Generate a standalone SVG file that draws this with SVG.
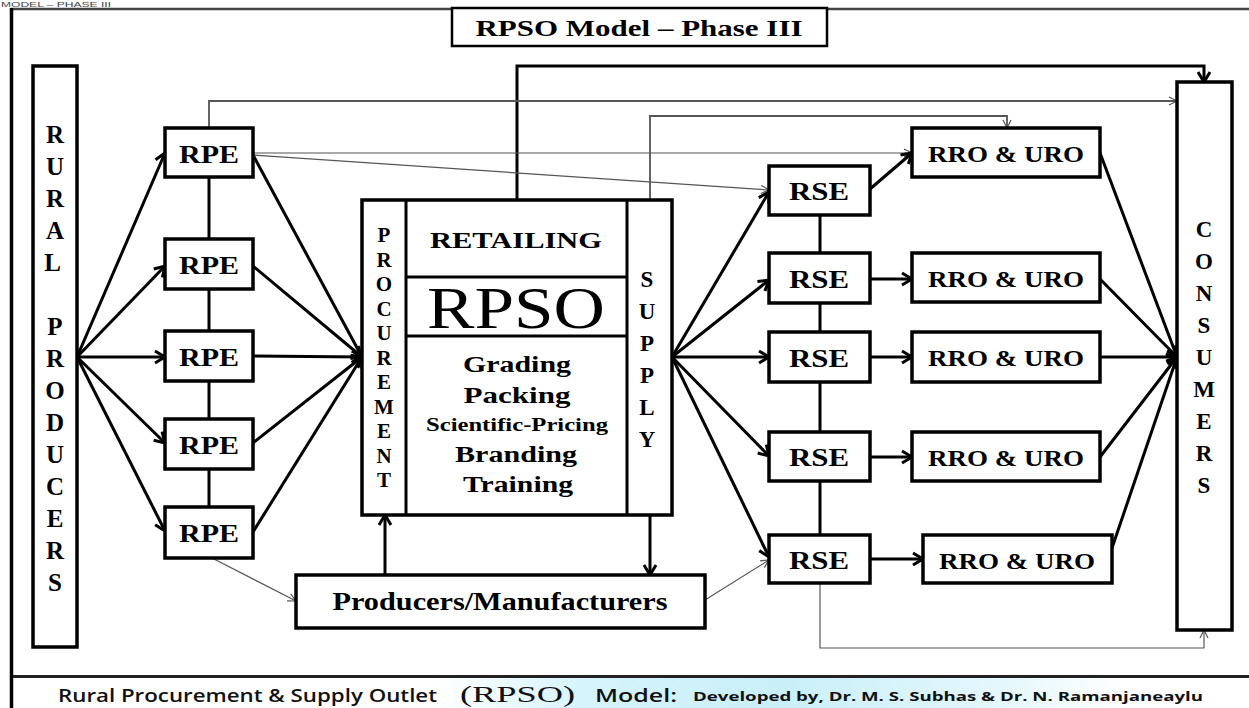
<svg xmlns="http://www.w3.org/2000/svg" width="1249" height="708" viewBox="0 0 1249 708">
<defs>
<linearGradient id="capbg" x1="0" y1="0" x2="1" y2="0">
<stop offset="0" stop-color="#ffffff"/>
<stop offset="0.34" stop-color="#ffffff"/>
<stop offset="0.46" stop-color="#d6f4fb"/>
<stop offset="0.62" stop-color="#c9eff9"/>
<stop offset="0.8" stop-color="#e4f7fc"/>
<stop offset="0.9" stop-color="#ffffff"/>
<stop offset="1" stop-color="#ffffff"/>
</linearGradient>
<marker id="ah" markerUnits="userSpaceOnUse" markerWidth="16" markerHeight="16" refX="13" refY="8" orient="auto" overflow="visible">
<path d="M3,2 L13,8 L3,14" fill="none" stroke="#000" stroke-width="3" stroke-linejoin="miter"/>
</marker>
<marker id="aht" markerUnits="userSpaceOnUse" markerWidth="12" markerHeight="12" refX="10" refY="6" orient="auto" overflow="visible">
<path d="M2,2 L10,6 L2,10" fill="none" stroke="#555" stroke-width="1.2"/>
</marker>
</defs>
<style>
.box{fill:#fff;stroke:#000;stroke-width:3.5}
.thick{fill:none;stroke:#000;stroke-width:3}
.thickA{fill:none;stroke:#000;stroke-width:3;marker-end:url(#ah)}
.thin{fill:none;stroke:#555;stroke-width:1.2;marker-end:url(#aht)}
.thin2{fill:none;stroke:#555;stroke-width:1.8;marker-end:url(#aht)}
.lbl{font-family:"Liberation Serif","Times New Roman",serif;font-weight:bold;text-anchor:middle;fill:#000}
.vl{font-family:"Liberation Serif","Times New Roman",serif;font-weight:bold;text-anchor:middle;fill:#000}
.cap{font-family:"Open Sans","Liberation Sans",sans-serif;font-weight:600;fill:#111}
</style>
<rect width="1249" height="708" fill="#fff"/>
<text x="1" y="7" font-family="Liberation Sans, sans-serif" font-size="8" fill="#444" textLength="110" lengthAdjust="spacingAndGlyphs">MODEL – PHASE III</text>

<g id="frame">
<line x1="11" y1="9" x2="1249" y2="9" stroke="#444" stroke-width="2.5"/>
<rect x="13" y="678" width="1236" height="30" fill="url(#capbg)"/>
<line x1="11" y1="676.5" x2="1249" y2="676.5" stroke="#222" stroke-width="3"/>
<line x1="11.5" y1="8" x2="11.5" y2="708" stroke="#000" stroke-width="3.5"/>
</g>

<g id="title">
<rect x="452" y="8" width="375" height="38" fill="#fff" stroke="#000" stroke-width="2.5"/>
<text x="639" y="36" class="lbl" font-size="23" textLength="327" lengthAdjust="spacingAndGlyphs">RPSO Model – Phase III</text>
</g>

<g id="connectors">
<path d="M517,200 V66 H1204 V82" class="thickA"/>
<path d="M209,128 V101 H1177" class="thin2"/>
<path d="M650,200 V116 H1007 V128" class="thin2"/>
<line x1="253" y1="153" x2="912" y2="153" class="thin"/>
<line x1="253" y1="155" x2="769" y2="190" class="thin"/>
<line x1="77" y1="357" x2="165" y2="153" class="thickA"/>
<line x1="77" y1="357" x2="165" y2="266" class="thickA"/>
<line x1="77" y1="357" x2="165" y2="357" class="thickA"/>
<line x1="77" y1="357" x2="165" y2="443" class="thickA"/>
<line x1="77" y1="357" x2="165" y2="531" class="thickA"/>
<line x1="253" y1="155" x2="362" y2="357" class="thickA"/>
<line x1="253" y1="266" x2="362" y2="357" class="thickA"/>
<line x1="253" y1="356" x2="362" y2="357" class="thickA"/>
<line x1="253" y1="443" x2="362" y2="357" class="thickA"/>
<line x1="253" y1="532" x2="362" y2="357" class="thickA"/>
<line x1="209" y1="177" x2="209" y2="239" class="thick"/>
<line x1="209" y1="289" x2="209" y2="331" class="thick"/>
<line x1="209" y1="381" x2="209" y2="419" class="thick"/>
<line x1="209" y1="469" x2="209" y2="507" class="thick"/>
<line x1="212" y1="558" x2="296" y2="601" class="thin"/>
<line x1="705" y1="600" x2="769" y2="560" class="thin"/>
<line x1="385" y1="575" x2="385" y2="515" class="thickA"/>
<line x1="650" y1="515" x2="650" y2="575" class="thickA"/>
<line x1="672" y1="357" x2="769" y2="192" class="thickA"/>
<line x1="672" y1="357" x2="769" y2="280" class="thickA"/>
<line x1="672" y1="357" x2="769" y2="357" class="thickA"/>
<line x1="672" y1="357" x2="769" y2="456" class="thickA"/>
<line x1="672" y1="357" x2="769" y2="557" class="thickA"/>
<line x1="820" y1="215" x2="820" y2="253" class="thick"/>
<line x1="820" y1="303" x2="820" y2="332" class="thick"/>
<line x1="820" y1="382" x2="820" y2="432" class="thick"/>
<line x1="820" y1="481" x2="820" y2="535" class="thick"/>
<line x1="870" y1="189" x2="912" y2="153" class="thickA"/>
<line x1="870" y1="279" x2="912" y2="279" class="thickA"/>
<line x1="870" y1="357" x2="912" y2="357" class="thickA"/>
<line x1="870" y1="457" x2="912" y2="457" class="thickA"/>
<line x1="870" y1="559" x2="923" y2="559" class="thickA"/>
<line x1="1100" y1="153" x2="1177" y2="357" class="thickA"/>
<line x1="1100" y1="279" x2="1177" y2="357" class="thickA"/>
<line x1="1100" y1="357" x2="1177" y2="357" class="thickA"/>
<line x1="1100" y1="457" x2="1177" y2="357" class="thickA"/>
<line x1="1112" y1="548" x2="1177" y2="357" class="thickA"/>
<path d="M820,583 V648 H1204 V630" class="thin"/>
</g>

<g id="rural-producers">
<rect x="33" y="66" width="44" height="581" class="box" stroke-width="3"/>
<text class="vl" font-size="25">
<tspan x="55" y="143">R</tspan><tspan x="55" y="175">U</tspan><tspan x="55" y="207">R</tspan><tspan x="55" y="239">A</tspan><tspan x="55" y="271">L</tspan>
<tspan x="55" y="335">P</tspan><tspan x="55" y="367">R</tspan><tspan x="55" y="399">O</tspan><tspan x="55" y="431">D</tspan><tspan x="55" y="463">U</tspan><tspan x="55" y="495">C</tspan><tspan x="55" y="527">E</tspan><tspan x="55" y="559">R</tspan><tspan x="55" y="591">S</tspan>
</text>
</g>

<g id="rpe1"><rect x="165" y="128" width="88" height="49" class="box"/><text x="209" y="163" class="lbl" font-size="25" textLength="60" lengthAdjust="spacingAndGlyphs">RPE</text></g>
<g id="rpe2"><rect x="165" y="239" width="88" height="50" class="box"/><text x="209" y="274" class="lbl" font-size="25" textLength="60" lengthAdjust="spacingAndGlyphs">RPE</text></g>
<g id="rpe3"><rect x="165" y="331" width="88" height="50" class="box"/><text x="209" y="366" class="lbl" font-size="25" textLength="60" lengthAdjust="spacingAndGlyphs">RPE</text></g>
<g id="rpe4"><rect x="165" y="419" width="88" height="50" class="box"/><text x="209" y="454" class="lbl" font-size="25" textLength="60" lengthAdjust="spacingAndGlyphs">RPE</text></g>
<g id="rpe5"><rect x="165" y="507" width="88" height="51" class="box"/><text x="209" y="542" class="lbl" font-size="25" textLength="60" lengthAdjust="spacingAndGlyphs">RPE</text></g>

<g id="rpso">
<rect x="362" y="200" width="310" height="315" class="box" stroke-width="3"/>
<line x1="406" y1="200" x2="406" y2="515" stroke="#000" stroke-width="3"/>
<line x1="627" y1="200" x2="627" y2="515" stroke="#000" stroke-width="3"/>
<line x1="406" y1="277" x2="627" y2="277" stroke="#000" stroke-width="3"/>
<line x1="406" y1="336" x2="627" y2="336" stroke="#000" stroke-width="3"/>
<text class="vl" font-size="21">
<tspan x="384" y="242">P</tspan><tspan x="384" y="266.5">R</tspan><tspan x="384" y="291">O</tspan><tspan x="384" y="315.5">C</tspan><tspan x="384" y="340">U</tspan><tspan x="384" y="364.5">R</tspan><tspan x="384" y="389">E</tspan><tspan x="384" y="413.5">M</tspan><tspan x="384" y="438">E</tspan><tspan x="384" y="462.5">N</tspan><tspan x="384" y="487">T</tspan>
</text>
<text class="vl" font-size="23">
<tspan x="647" y="287">S</tspan><tspan x="647" y="319">U</tspan><tspan x="647" y="351">P</tspan><tspan x="647" y="383">P</tspan><tspan x="647" y="415">L</tspan><tspan x="647" y="447">Y</tspan>
</text>
<text x="516" y="248" class="lbl" font-size="24" textLength="172" lengthAdjust="spacingAndGlyphs">RETAILING</text>
<text x="516" y="328" class="lbl" style="font-weight:normal" font-size="60" textLength="178" lengthAdjust="spacingAndGlyphs">RPSO</text>
<text x="517" y="372" class="lbl" font-size="24" textLength="108" lengthAdjust="spacingAndGlyphs">Grading</text>
<text x="517" y="403" class="lbl" font-size="24" textLength="107" lengthAdjust="spacingAndGlyphs">Packing</text>
<text x="517" y="431" class="lbl" font-size="19" textLength="182" lengthAdjust="spacingAndGlyphs">Scientific-Pricing</text>
<text x="516" y="462" class="lbl" font-size="24" textLength="122" lengthAdjust="spacingAndGlyphs">Branding</text>
<text x="518" y="492" class="lbl" font-size="24" textLength="110" lengthAdjust="spacingAndGlyphs">Training</text>
</g>

<g id="producers-manufacturers">
<rect x="296" y="575" width="409" height="53" class="box" stroke-width="3"/>
<text x="500" y="610" class="lbl" font-size="26" textLength="335" lengthAdjust="spacingAndGlyphs">Producers/Manufacturers</text>
</g>

<g id="rse1"><rect x="769" y="166" width="101" height="49" class="box"/><text x="819" y="200" class="lbl" font-size="26" textLength="60" lengthAdjust="spacingAndGlyphs">RSE</text></g>
<g id="rse2"><rect x="769" y="253" width="101" height="50" class="box"/><text x="819" y="288" class="lbl" font-size="26" textLength="60" lengthAdjust="spacingAndGlyphs">RSE</text></g>
<g id="rse3"><rect x="769" y="332" width="101" height="50" class="box"/><text x="819" y="367" class="lbl" font-size="26" textLength="60" lengthAdjust="spacingAndGlyphs">RSE</text></g>
<g id="rse4"><rect x="769" y="432" width="101" height="49" class="box"/><text x="819" y="466" class="lbl" font-size="26" textLength="60" lengthAdjust="spacingAndGlyphs">RSE</text></g>
<g id="rse5"><rect x="769" y="535" width="101" height="48" class="box"/><text x="819" y="569" class="lbl" font-size="26" textLength="60" lengthAdjust="spacingAndGlyphs">RSE</text></g>

<g id="rro1"><rect x="912" y="128" width="188" height="49" class="box"/><text x="1006" y="162" class="lbl" font-size="23" textLength="156" lengthAdjust="spacingAndGlyphs">RRO &amp; URO</text></g>
<g id="rro2"><rect x="912" y="253" width="188" height="49" class="box"/><text x="1006" y="287" class="lbl" font-size="23" textLength="156" lengthAdjust="spacingAndGlyphs">RRO &amp; URO</text></g>
<g id="rro3"><rect x="912" y="332" width="188" height="50" class="box"/><text x="1006" y="366" class="lbl" font-size="23" textLength="156" lengthAdjust="spacingAndGlyphs">RRO &amp; URO</text></g>
<g id="rro4"><rect x="912" y="432" width="188" height="49" class="box"/><text x="1006" y="466" class="lbl" font-size="23" textLength="156" lengthAdjust="spacingAndGlyphs">RRO &amp; URO</text></g>
<g id="rro5"><rect x="923" y="535" width="189" height="48" class="box"/><text x="1017" y="569" class="lbl" font-size="23" textLength="156" lengthAdjust="spacingAndGlyphs">RRO &amp; URO</text></g>

<g id="consumers">
<rect x="1177" y="82" width="55" height="548" class="box" stroke-width="3"/>
<text class="vl" font-size="23">
<tspan x="1204" y="237">C</tspan><tspan x="1204" y="269">O</tspan><tspan x="1204" y="301">N</tspan><tspan x="1204" y="333">S</tspan><tspan x="1204" y="365">U</tspan><tspan x="1204" y="397">M</tspan><tspan x="1204" y="429">E</tspan><tspan x="1204" y="461">R</tspan><tspan x="1204" y="493">S</tspan>
</text>
</g>

<g id="caption">
<text x="58" y="702" class="cap" font-size="18" textLength="379" lengthAdjust="spacingAndGlyphs">Rural Procurement &amp; Supply Outlet</text>
<text x="460" y="702" font-family="Liberation Serif, serif" font-size="23" fill="#111" textLength="115" lengthAdjust="spacingAndGlyphs">(RPSO)</text>
<text x="595" y="702" class="cap" font-size="18" textLength="82" lengthAdjust="spacingAndGlyphs">Model:</text>
<text x="693" y="701" class="cap" font-size="13" style="font-weight:700" textLength="510" lengthAdjust="spacingAndGlyphs">Developed by,  Dr. M. S. Subhas &amp; Dr. N. Ramanjaneaylu</text>
</g>
</svg>
